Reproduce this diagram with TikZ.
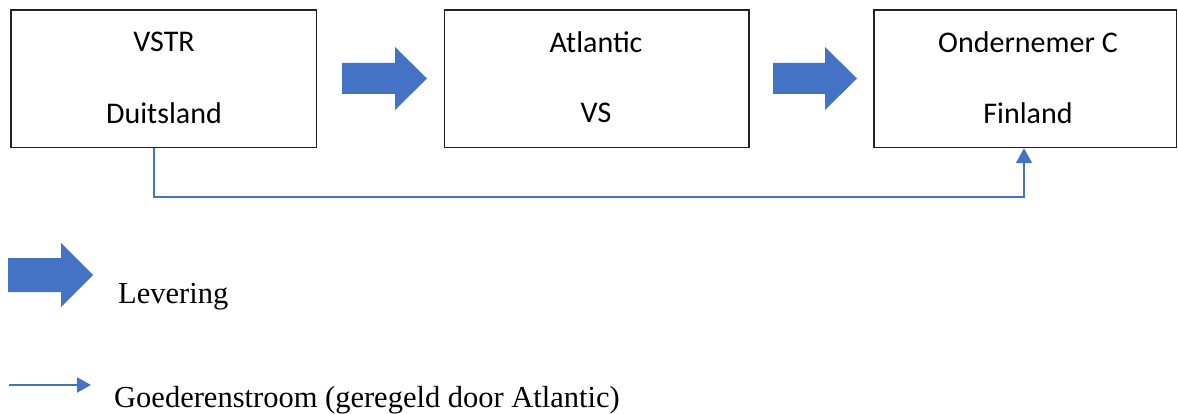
\documentclass[tikz,border=0pt]{standalone}
\usepackage{fontspec}
\setmainfont{Carlito}
\newfontfamily\legfont{Liberation Serif}
\usetikzlibrary{arrows.meta}
\definecolor{officeblue}{HTML}{4472C4}
\definecolor{boxline}{HTML}{222222}
\begin{document}
\begin{tikzpicture}[x=1pt,y=-1pt,
  boxnode/.style={draw=boxline,line width=1.5pt,rectangle,inner sep=0pt},
  boxtext/.style={font=\fontsize{30}{36}\selectfont,inner sep=0pt,text=black},
  fatarrow/.style={fill=officeblue,draw=none},
  flow/.style={draw=officeblue,line width=2pt,-{Triangle[length=15pt,width=16pt]}},
  legtext/.style={font=\legfont\fontsize{30.5}{36}\selectfont,inner sep=0pt,anchor=base west}]
\useasboundingbox (0,0) rectangle (1178,414);
% boxes
\node[boxnode,minimum width=305.5pt,minimum height=137.5pt] (b1) at (163.75,78.75) {};
\node[boxnode,minimum width=304.5pt,minimum height=137.5pt] (b2) at (596.75,78.75) {};
\node[boxnode,minimum width=302.5pt,minimum height=137.5pt] (b3) at (1025.25,78.75) {};
% box texts
\node[boxtext] (t1a) at (164,42) {VSTR};
\node[boxtext] (t1b) at (164,113) {Duitsland};
\node[boxtext] (t2a) at (596,42) {Atlantic};
\node[boxtext] (t2b) at (596,113) {VS};
\node[boxtext] (t3a) at (1028,42) {Ondernemer C};
\node[boxtext] (t3b) at (1028,113) {Finland};
% fat arrows (delivery)
\fill[fatarrow] (342,63) -- (395,63) -- (395,47) -- (427,78.5) -- (395,110) -- (395,94) -- (342,94) -- cycle;
\fill[fatarrow] (773,63) -- (825,63) -- (825,47) -- (857,78.5) -- (825,110) -- (825,94) -- (773,94) -- cycle;
% goods flow
\coordinate (turn) at (154,197);
\draw[flow] ([xshift=-9.75pt]b1.south) -- (turn) -| ([xshift=-1.25pt]b3.south);
% legend
\fill[fatarrow] (8,258) -- (61,258) -- (61,243) -- (93,275) -- (61,307) -- (61,292) -- (8,292) -- cycle;
\node[legtext] (l1) at (118,303) {Levering};
\coordinate (ls) at (9,385);
\coordinate (le) at (91,385);
\draw[flow,-{Triangle[length=14pt,width=15pt]}] (ls) -- (le);
\node[legtext] (l2) at (114,407) {Goederenstroom (geregeld door Atlantic)};
\end{tikzpicture}
\end{document}
